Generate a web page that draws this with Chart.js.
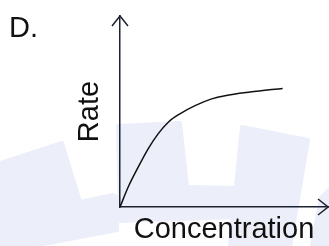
<!DOCTYPE html>
<html>
<head>
<meta charset="utf-8">
<script src="https://cdn.jsdelivr.net/npm/chart.js@4/dist/chart.umd.min.js"></script>
<style>
  html, body { margin: 0; padding: 0; background: #fff; }
</style>
</head>
<body>
<canvas id="chart" width="329" height="246"></canvas>
<script>
// Data ---

const concentration = [0, 4.0, 8.8, 13.6, 18.4, 23.2, 28.8, 36.1, 44.1, 50.5, 62.5, 78.2];
const rate = [0, 10.6, 21.0, 30.6, 38.4, 44.4, 48.8, 53.1, 56.6, 58.3, 60.2, 62.1];

const panelLabel = "D.";
const xTitle = "Concentration";
const yTitle = "Rate";

const INK = "#111111";
const AXIS = "#1d2230";
const WASH = "#eceef9";
const FONT = "'Liberation Sans', Arial, sans-serif";

Chart.defaults.font.family = FONT;
Chart.defaults.color = INK;

// Plugins ---

// faint logo watermark behind the chart
const watermark = {
  id: "watermark",
  beforeDraw(chart) {
    const ctx = chart.ctx;
    const shapes = [
      [[0, 163], [62, 143], [80, 202], [113, 195], [117, 197], [117, 230], [33, 246], [0, 246]],
      [[118, 126], [180, 123], [187, 187], [238, 188], [236, 217], [120, 221]],
      [[242, 127], [308, 140], [290, 246], [230, 246]],
      [[321, 198], [329, 190], [329, 246], [312, 246]],
    ];
    ctx.save();
    ctx.fillStyle = WASH;
    ctx.lineJoin = "round";
    ctx.lineWidth = 4;
    ctx.strokeStyle = WASH;
    shapes.forEach((pts) => {
      ctx.beginPath();
      pts.forEach(([x, y], i) => (i ? ctx.lineTo(x, y) : ctx.moveTo(x, y)));
      ctx.closePath();
      ctx.fill();
      ctx.stroke();
    });
    ctx.restore();
  },
};

// arrow heads on the axes and the panel letter
const decorations = {
  id: "decorations",
  afterDraw(chart) {
    const { ctx, chartArea } = chart;
    const { left, top, right, bottom } = chartArea;

    ctx.save();
    ctx.strokeStyle = AXIS;
    ctx.lineWidth = 1.5;
    ctx.beginPath();
    ctx.moveTo(left - 8, top + 10);
    ctx.lineTo(left, top);
    ctx.lineTo(left + 8, top + 10);
    ctx.moveTo(right - 10, bottom - 8);
    ctx.lineTo(right, bottom);
    ctx.lineTo(right - 10, bottom + 8);
    ctx.stroke();

    ctx.fillStyle = INK;
    ctx.font = "29px " + FONT;
    ctx.textBaseline = "alphabetic";
    ctx.fillText(panelLabel, 9, 37);
    ctx.restore();
  },
};

// Chart ---

const points = concentration.map((x, i) => ({ x: x, y: rate[i] }));

new Chart(document.getElementById("chart"), {
  type: "scatter",
  data: {
    datasets: [
      {
        data: points,
        showLine: true,
        borderColor: INK,
        borderWidth: 1.5,
        pointRadius: 0,
        cubicInterpolationMode: "monotone",
        clip: false,
      },
    ],
  },
  options: {
    responsive: false,
    animation: false,
    layout: {
      padding: { left: 70, top: 16, right: 1, bottom: 0 },
    },
    plugins: {
      legend: { display: false },
      tooltip: { enabled: false },
    },
    scales: {
      x: {
        min: 0,
        max: 100,
        grid: { display: false, drawTicks: false },
        ticks: { display: false },
        border: { display: true, color: AXIS, width: 1.5 },
        title: {
          display: true,
          text: xTitle,
          font: { size: 29, lineHeight: 1 },
          color: INK,
          padding: { top: 8.5, bottom: 1.5 },
        },
      },
      y: {
        min: 0,
        max: 100,
        grid: { display: false, drawTicks: false },
        ticks: { display: false },
        border: { display: true, color: AXIS, width: 1.5 },
        title: {
          display: true,
          text: yTitle,
          font: { size: 29, lineHeight: 1 },
          color: INK,
          padding: { top: 5.5, bottom: 15.5 },
        },
      },
    },
  },
  plugins: [watermark, decorations],
});
</script>
</body>
</html>
